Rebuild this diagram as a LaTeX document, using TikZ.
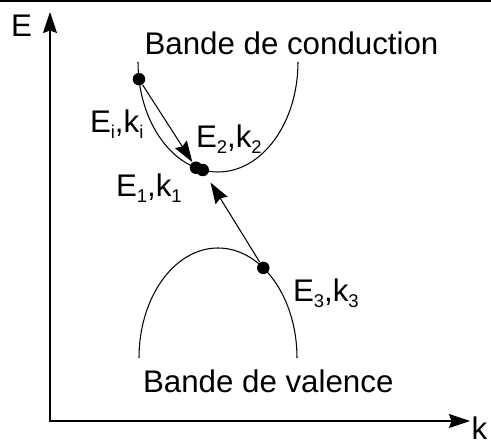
\documentclass[tikz,border=0pt]{standalone}
\usepackage{fontspec}
\setmainfont{Liberation Sans}
\usetikzlibrary{arrows.meta,calc}
\newcommand\lowsub[1]{\raisebox{-3pt}{\fontsize{10.5}{10.5}\selectfont#1}}
\begin{document}
\begin{tikzpicture}[>={Stealth[length=.42cm,width=.28cm,inset=.05cm]},line width=.6pt,dot/.style={circle,fill,inner sep=0pt,minimum size=.25cm},lbl/.style={anchor=base west,inner sep=0pt,font=\fontsize{17.8}{21}\selectfont}]
\useasboundingbox(0,0)rectangle(9.82,8.9);
\draw[line width=.04cm](0,8.88)--(9.82,8.88);
\coordinate(o)at(1,.48);\coordinate(ytop)at(1,8.66);\coordinate(xend)at(9.4,.48);\draw[<->,line width=.8pt](ytop)|-(xend);
\node[lbl](lE)at(.21,8.16){E};\node[lbl](lk)at(9.42,.1){k};
\coordinate(cb)at(4.36,7.66);\coordinate(vb)at(4.36,1.74);
\draw($(cb)+(180:1.6 and 2.2)$)arc[start angle=180,end angle=360,x radius=1.6,y radius=2.2];\node[lbl](bc)at(2.88,7.8){Bande de conduction};
\draw($(vb)+(180:1.58 and 2.2)$)arc[start angle=180,end angle=0,x radius=1.58,y radius=2.2];\node[lbl](bv)at(2.85,1.04){Bande de valence};
\node[dot](ei)at($(cb)+(189:1.6 and 2.2)$){};\node[dot](e1)at($(cb)+(254:1.6 and 2.2)$){};\node[dot](e2)at($(cb)+(259:1.6 and 2.2)$){};\node[dot](e3)at($(vb)+(55:1.58 and 2.2)$){};
\draw[->](ei)--(e1);\draw[->,shorten >=.16cm](e3)--(e2);
\node[lbl](li)at(1.79,6.24){E\lowsub{i},k\lowsub{i}};\node[lbl](l2)at(3.91,5.94){E\lowsub{2},k\lowsub{2}};
\node[lbl](l1)at(2.31,4.96){E\lowsub{1},k\lowsub{1}};\node[lbl](l3)at(5.85,2.86){E\lowsub{3},k\lowsub{3}};
\end{tikzpicture}
\end{document}
